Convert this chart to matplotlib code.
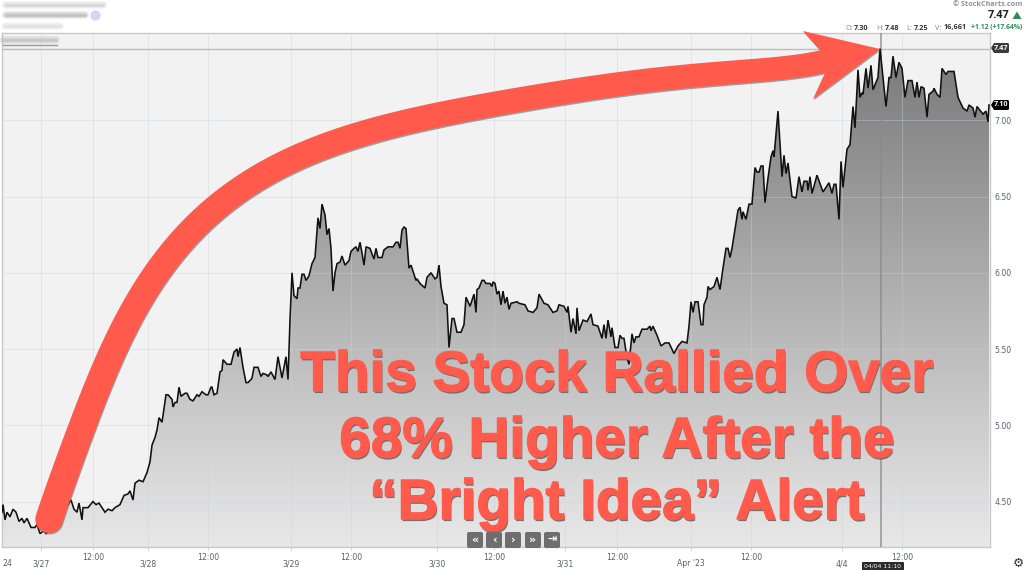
import numpy as np
import matplotlib
matplotlib.use("Agg")
import matplotlib.pyplot as plt
import matplotlib.patheffects as pe
from matplotlib.colors import LinearSegmentedColormap
from matplotlib.patches import Polygon, FancyBboxPatch, PathPatch
from matplotlib.lines import Line2D
from matplotlib.path import Path

bar_pos = [2,3,5,7,10,13,16,19,22,24,27,31,35,37,40,44,46,50,55,60,65,71,74,77,79,82,83,88,93,96,99,105,108,112,115,120,124,128,130,133,135,139,143,147,150,152,155,157,159,162,166,168,172,173,175,177,179,181,185,187,190,193,197,199,202,206,208,211,212,214,217,220,222,223,227,231,234,237,238,240,243,246,248,251,252,254,257,258,261,263,267,268,271,275,278,282,286,288,290,292,
294,297,298,300,302,304,306,309,312,315,318,320,322,325,327,329,331,333,335,337,340,342,345,349,351,354,356,358,360,362,364,366,370,374,376,378,382,384,388,393,396,398,400,402,404,406,407,409,411,416,417,420,425,427,431,435,437,439,441,444,447,449,452,454,457,461,464,466,470,474,476,477,479,482,484,486,490,492,493,495,497,499,501,503,505,507,509,511,517,519,525,528,533,537,539,544,548,553,557,559,564,567,568,571,573,576,577,579,583,587,591,593,598,602,604,606,608,611,612,615,618,620,622,624,627,629,632,634,636,639,642,647,650,651,653,657,661,665,669,674,678,682,687,689,691,693,695,698,701,703,704,707,708,710,714,717,720,723,726,728,730,732,738,740,742,743,746,749,752,755,757,759,761,763,765,768,771,773,774,778,782,784,786,788,792,796,799,802,804,807,808,810,812,817,823,829,832,834,836,839,841,843,847,850,853,855,858,860,862,863,866,868,871,873,878,880,886,889,891,893,896,899,902,905,908,912,915,917,919,921,924,927,929,933,934,937,940,942,946,948,954,958,963,967,969,973,975,977,983,986,988,989]
close = [4.43,4.48,4.38,4.43,4.40,4.45,4.43,4.37,4.39,4.36,4.39,4.33,4.33,4.35,4.29,4.31,4.29,4.31,4.37,4.41,4.45,4.51,4.45,4.43,4.49,4.38,4.46,4.46,4.50,4.48,4.49,4.43,4.45,4.44,4.46,4.48,4.54,4.55,4.57,4.51,4.62,4.64,4.63,4.69,4.76,4.87,4.92,4.97,5.05,5.02,5.20,5.20,5.17,5.12,5.15,5.15,5.25,5.19,5.21,5.21,5.17,5.16,5.20,5.19,5.22,5.20,5.20,5.25,5.25,5.20,5.21,5.35,5.36,5.43,5.40,5.40,5.48,5.50,5.45,5.51,5.38,5.28,5.28,5.30,5.31,5.38,5.38,5.38,5.32,5.34,5.33,5.32,5.35,5.30,5.45,5.31,5.45,5.30,5.69,6.00,
5.85,5.83,5.90,5.90,5.99,5.99,5.95,5.98,6.06,6.10,6.36,6.29,6.45,6.38,6.25,6.29,6.16,5.88,6.00,6.06,6.07,6.11,6.05,6.08,6.14,6.16,6.17,6.14,6.20,6.13,6.05,6.17,6.16,6.09,6.16,6.10,6.10,6.15,6.17,6.17,6.20,6.20,6.16,6.28,6.30,6.29,6.20,6.03,6.05,5.95,5.96,5.93,5.90,5.97,6.00,5.96,5.97,6.05,5.91,5.80,5.79,5.51,5.70,5.70,5.61,5.61,5.66,5.84,5.78,5.86,5.74,5.89,5.90,5.95,5.95,5.93,5.93,5.91,5.94,5.93,5.86,5.88,5.79,5.88,5.80,5.84,5.76,5.80,5.81,5.80,5.79,5.75,5.74,5.77,5.86,5.80,5.79,5.74,5.75,5.79,5.78,5.74,5.78,5.61,5.70,5.60,5.77,5.62,5.69,5.68,5.73,5.66,5.65,5.57,5.66,5.57,5.69,5.58,5.64,5.51,5.51,5.59,5.57,5.57,5.44,5.40,5.60,5.54,5.58,5.58,5.63,5.63,5.65,5.62,5.65,5.59,5.52,5.54,5.54,5.47,5.52,5.55,5.54,5.65,5.81,5.74,5.81,5.81,5.66,5.66,5.79,5.84,5.91,5.89,5.91,5.97,5.89,6.03,6.16,6.16,6.10,6.16,6.41,6.43,6.35,6.40,6.35,6.45,6.45,6.69,6.66,6.66,6.70,6.70,6.46,6.62,6.76,6.80,6.76,7.06,6.63,6.77,6.65,6.72,6.50,6.49,6.63,6.53,6.60,6.60,6.54,6.63,6.52,6.64,6.53,6.59,6.52,6.58,6.58,6.35,6.73,6.56,6.81,6.84,7.09,6.95,7.33,7.15,7.18,7.17,7.34,7.21,7.36,7.20,7.28,7.47,7.09,7.28,7.28,7.42,7.28,7.38,7.34,7.15,7.26,7.26,7.15,7.25,7.15,7.22,7.21,7.02,7.17,7.19,7.21,7.17,7.15,7.34,7.30,7.32,7.32,7.15,7.08,7.06,7.10,7.08,7.02,7.09,7.04,7.06,6.99,7.10]

date_ticks = [41,148,291,437,565,691,842]
date_labels = ["3/27","3/28","3/29","3/30","3/31","Apr '23","4/4"]
noon_ticks = [93,208,351,494,617,751,902]
noon_labels = ["12:00"]*7
price_ticks = [4.5,5.0,5.5,6.0,6.5,7.0]
price_labels = ["4.50","5.00","5.50","6.00","6.50","7.00"]
last_high = 7.47
last_close = 7.10
crosshair_pos = 881
headline = ["This Stock Rallied Over", "68% Higher After the", "\u201cBright Idea\u201d Alert"]

W, H = 1024, 570
RED = "#FF5A4C"
fig = plt.figure(figsize=(W/100, H/100), dpi=100, facecolor="white")
L, R, T, B = 2, 990, 33, 547
ax = fig.add_axes([L/W, 1-B/H, (R-L)/W, (B-T)/H], facecolor="#f2f2f2")

cmap = LinearSegmentedColormap.from_list("f", ["#767676", "#e8e8e8"])
img = ax.imshow(np.linspace(0, 1, 256)[:, None], extent=[L, R, 4.202, 7.572], origin="upper",
                aspect="auto", cmap=cmap, zorder=1, vmin=0, vmax=1)
px = [bar_pos[0]] + bar_pos + [bar_pos[-1]]
py = [4.0] + close + [4.0]
clip = PathPatch(Path(np.column_stack([px, py])), transform=ax.transData, fc="none", ec="none")
ax.add_patch(clip)
img.set_clip_path(clip)
ax.set_xlim(L, R)
ax.set_ylim(4.202, 7.572)

ax.plot(bar_pos, close, color="#111111", lw=1.15, zorder=3, solid_joinstyle="miter")

ax.axhline(last_high, color="#bdbdbd", lw=1, zorder=2.6)
ax.axvline(crosshair_pos, color="#8a8a8a", lw=1.3, alpha=.75, zorder=2.7)

ax.set_xticks(date_ticks)
ax.set_xticklabels(date_labels)
ax.set_xticks(noon_ticks, minor=True)
ax.set_xticklabels(noon_labels, minor=True)
ax.set_yticks(price_ticks)
ax.set_yticklabels(price_labels)
ax.yaxis.tick_right()
ax.set_axisbelow(False)
ax.grid(True, which="both", color="#c9d1d9", lw=.7, alpha=.4, zorder=2.5)
tc = "#56616c"
ax.tick_params(axis="x", which="major", length=3, width=.6, color="#cccccc", labelsize=5.6, labelcolor=tc, pad=6)
ax.tick_params(axis="x", which="minor", length=2, width=.6, color="#cccccc", labelsize=5.6, labelcolor=tc, pad=2)
ax.tick_params(axis="y", length=0, labelsize=5.6, labelcolor=tc, pad=3)
for s in ax.spines.values():
    s.set_color("#c8c8c8"); s.set_linewidth(1)

# overlay in pixel space
ov = fig.add_axes([0, 0, 1, 1], facecolor="none")
ov.set_xlim(0, W); ov.set_ylim(H, 0); ov.axis("off")

# header
ov.text(1022, 5, "\u00a9 StockCharts.com", ha="right", va="center", fontsize=5.2, color="#8a939b", family="Open Sans", weight="bold")
ov.text(1010, 15, "7.47", ha="right", va="center", fontsize=7.8, weight="bold", color="#222222", family="Open Sans")
ov.add_patch(Polygon([[1012.5, 19], [1021.5, 19], [1017, 11.5]], fc="#2e8b57", ec="none"))
for x, s, c, w in [(845, "O:", "#888888", "normal"), (854, "7.30", "#333333", "bold"),
                   (876, "H:", "#888888", "normal"), (885, "7.48", "#333333", "bold"),
                   (906, "L:", "#888888", "normal"), (914, "7.25", "#333333", "bold"),
                   (935, "V:", "#888888", "normal"), (944, "16,661", "#333333", "bold")]:
    ov.text(x, 28, s, ha="left", va="center", fontsize=5.2, color=c, weight=w, family="Open Sans")
ov.text(1022, 28, "+1.12 (+17.64%)", ha="right", va="center", fontsize=4.9, color="#2e8b57", weight="bold", family="Open Sans")

# blurred title block
for x0, x1, y, col in [(6, 103, 5, "#c9c9c9"), (6, 85, 15, "#a9a9a9"), (5, 60, 26, "#d6d6d6"), (3, 56, 40, "#b5b5b5")]:
    for lw, a in [(6, .18), (4, .3), (2, .45)]:
        ov.add_line(Line2D([x0, x1], [y, y], color=col, lw=lw, alpha=a, solid_capstyle="round"))
ov.scatter([95], [15], s=55, color="#a9c1f5", alpha=.6, lw=0)
ov.add_line(Line2D([3, 57], [44.5, 44.5], color="#9a9a9a", lw=1))

# arrow: smooth tapered band with a round tail, all one outline with its head
ctrl = np.array([(49, 519), (62, 483), (83, 423), (118, 340), (185, 240), (230, 193), (291, 161),
                 (372, 132), (437, 114), (560, 93), (700, 75), (825, 61)], float)
chord = np.r_[0, np.cumsum(np.hypot(*np.diff(ctrl, axis=0).T))]
chord /= chord[-1]
tt = np.linspace(0, 1, 300)
cx = np.polyval(np.polyfit(chord, ctrl[:, 0], 7), tt)
cy = np.polyval(np.polyfit(chord, ctrl[:, 1], 7), tt)
dx, dy = np.gradient(cx), np.gradient(cy)
nn = np.hypot(dx, dy)
half = np.interp(tt, [0, 1], [13.8, 11.5])
upper = np.column_stack([cx - dy/nn*half, cy + dx/nn*half])
lower = np.column_stack([cx + dy/nn*half, cy - dx/nn*half])
a0 = np.arctan2(lower[0, 1]-cy[0], lower[0, 0]-cx[0])
arc_t = a0 + np.linspace(0, np.pi, 40) * np.sign(np.cross([lower[0,0]-cx[0], lower[0,1]-cy[0]], [-(dx[0]/nn[0]), -(dy[0]/nn[0])]))
cap = np.column_stack([cx[0] + half[0]*np.cos(arc_t), cy[0] + half[0]*np.sin(arc_t)])
head = np.array([[820, 50], [803, 31], [880, 49], [813, 99], [825, 73]], float)
outline = np.vstack([cap, upper, head[::-1], lower[::-1]])
shadow = [pe.SimplePatchShadow(offset=(.5, -1.0), shadow_rgbFace="#666666", alpha=.6), pe.Normal()]
ov.add_patch(Polygon(outline, closed=True, fc=RED, ec="none", zorder=5, path_effects=shadow))

# headline
for (s, y) in zip(headline, [391, 457, 519]):
    ov.text(617, y, s, ha="center", va="baseline", fontsize=40.8, weight="bold", family="Liberation Sans", color=RED, zorder=6,
            path_effects=[pe.SimplePatchShadow(offset=(.8, -1.5), shadow_rgbFace="#666666", alpha=.9),
                          pe.withStroke(linewidth=1.1, foreground=RED)])

# nav buttons
for x0, g in zip([467, 486, 505, 525, 544], ["\u00ab", "\u2039", "\u203a", "\u00bb", "\u21e5"]):
    ov.add_patch(FancyBboxPatch((x0+1, 533), 14, 14, boxstyle="round,pad=1,rounding_size=2", fc="#6e6e6e", ec="none", zorder=7))
    ov.text(x0+8, 539.5, g, ha="center", va="center", color="white", fontsize=8, weight="bold", zorder=8)

# price tags
def tag(y, s, col):
    ov.add_patch(Polygon([[991, y], [994, y-5], [1008, y-5], [1009, y-4], [1009, y+4], [1008, y+5], [994, y+5]], fc=col, ec="none", zorder=7))
    ov.text(1001, y, s, ha="center", va="center", fontsize=5.2, color="white", weight="bold", family="Open Sans", zorder=8)
tag(48, f"{last_high:.2f}", "#3a3a3a")
tag(105, f"{last_close:.2f}", "#000000")

# crosshair tooltip, left label, gear
ov.add_patch(FancyBboxPatch((863, 563), 40, 7, boxstyle="round,pad=1,rounding_size=1", fc="#2b2b2b", ec="none", zorder=7))
ov.text(883, 566, "04/04 11:10", ha="center", va="center", fontsize=4.4, color="white", zorder=8)
ov.text(2, 564, "24", ha="left", va="center", fontsize=5.6, color=tc)
ov.text(1018, 563, "\u2699", ha="center", va="center", fontsize=9, color="#333333")

fig.savefig("out.png", dpi=100)
